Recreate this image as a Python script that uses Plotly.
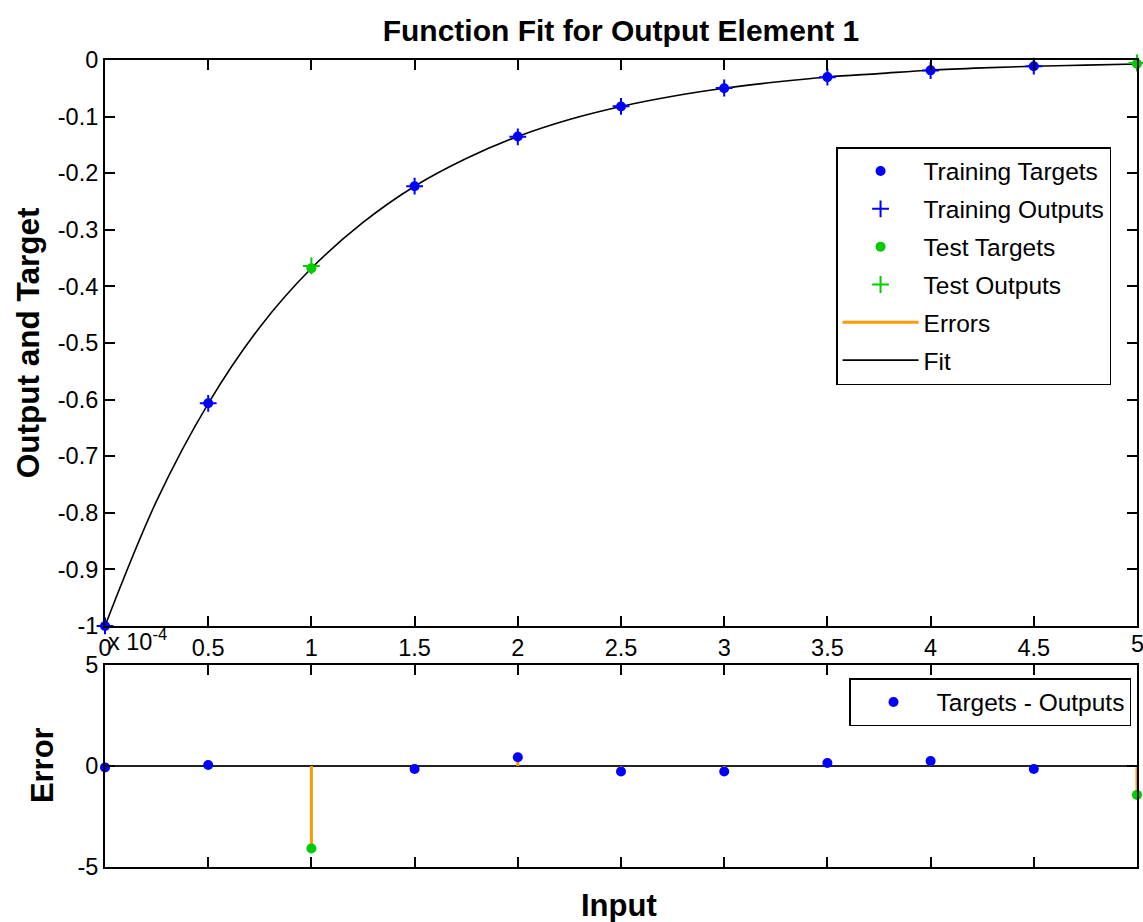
import plotly.graph_objects as go
from plotly.subplots import make_subplots

# ---------------- data ----------------
inputs = [0.0, 0.5e-4, 1.0e-4, 1.5e-4, 2.0e-4, 2.5e-4, 3.0e-4, 3.5e-4, 4.0e-4, 4.5e-4, 5.0e-4]
targets = [-1.0, -0.6065, -0.3679, -0.2231, -0.1353, -0.0821, -0.0498, -0.0302, -0.0183, -0.0111, -0.0067]
outputs = [-0.9999, -0.6066, -0.3638, -0.2230, -0.1357, -0.0818, -0.0495, -0.0304, -0.0186, -0.0109, -0.0053]
errors = [-0.07, 0.05, -4.08, -0.15, 0.43, -0.27, -0.27, 0.15, 0.25, -0.15, -1.43]
is_test = [False, False, True, False, False, False, False, False, False, False, True]

fit_x = [0.0, 0.25e-4, 0.5e-4, 0.75e-4, 1.0e-4, 1.25e-4, 1.5e-4, 1.75e-4, 2.0e-4, 2.25e-4, 2.5e-4,
         2.75e-4, 3.0e-4, 3.25e-4, 3.5e-4, 3.75e-4, 4.0e-4, 4.25e-4, 4.5e-4, 4.75e-4, 5.0e-4]
fit_y = [-1.0, -0.779, -0.607, -0.472, -0.368, -0.287, -0.223, -0.174, -0.135, -0.105, -0.082,
         -0.064, -0.050, -0.039, -0.030, -0.024, -0.018, -0.014, -0.011, -0.009, -0.007]

x_tickvals = [0.0, 0.5e-4, 1.0e-4, 1.5e-4, 2.0e-4, 2.5e-4, 3.0e-4, 3.5e-4, 4.0e-4, 4.5e-4, 5.0e-4]
x_ticktext = ["0", "0.5", "1", "1.5", "2", "2.5", "3", "3.5", "4", "4.5", "5"]
y1_tickvals = [0, -0.1, -0.2, -0.3, -0.4, -0.5, -0.6, -0.7, -0.8, -0.9, -1.0]
y1_ticktext = ["0", "-0.1", "-0.2", "-0.3", "-0.4", "-0.5", "-0.6", "-0.7", "-0.8", "-0.9", "-1"]
y2_tickvals = [5, 0, -5]
y2_ticktext = ["5", "0", "-5"]

# ---------------- style ----------------
BLUE = "#0000FF"
GREEN = "#00CC00"
ORANGE = "#FF9900"
FONT = "Liberation Sans, Arial, sans-serif"

W, H = 1143, 922
L, R, T, B = 105, 4, 60, 55
plot_h = H - T - B
top_bottom_px = 626
bot_top_px = 665
dom_top = [(H - B - top_bottom_px) / plot_h, 1.0]
dom_bot = [0.0, (H - B - bot_top_px) / plot_h]

fig = make_subplots(rows=2, cols=1)

tr_idx = [i for i in range(len(inputs)) if not is_test[i]]
te_idx = [i for i in range(len(inputs)) if is_test[i]]

# top panel error stems (target -> output)
sx, sy = [], []
for i in range(len(inputs)):
    sx += [inputs[i], inputs[i], None]
    sy += [targets[i], outputs[i], None]

fig.add_trace(go.Scatter(x=fit_x, y=fit_y, mode="lines", name="Fit",
                         line=dict(color="black", width=1.6, shape="spline"),
                         legend="legend", legendrank=6, legendgroup="g6",
                         cliponaxis=False), row=1, col=1)
fig.add_trace(go.Scatter(x=sx, y=sy, mode="lines", name="Errors",
                         line=dict(color=ORANGE, width=3), legend="legend",
                         legendrank=5, legendgroup="g5"), row=1, col=1)
fig.add_trace(go.Scatter(x=[inputs[i] for i in tr_idx], y=[targets[i] for i in tr_idx],
                         mode="markers", name="Training Targets",
                         marker=dict(color=BLUE, size=10, symbol="circle"),
                         legend="legend", legendrank=1, legendgroup="g1",
                         cliponaxis=False), row=1, col=1)
fig.add_trace(go.Scatter(x=[inputs[i] for i in tr_idx], y=[outputs[i] for i in tr_idx],
                         mode="markers", name="Training Outputs",
                         marker=dict(color=BLUE, size=12, symbol="cross-thin",
                                     line=dict(color=BLUE, width=2)),
                         legend="legend", legendrank=2, legendgroup="g2",
                         cliponaxis=False), row=1, col=1)
fig.add_trace(go.Scatter(x=[inputs[i] for i in te_idx], y=[targets[i] for i in te_idx],
                         mode="markers", name="Test Targets",
                         marker=dict(color=GREEN, size=10, symbol="circle"),
                         legend="legend", legendrank=3, legendgroup="g3",
                         cliponaxis=False), row=1, col=1)
fig.add_trace(go.Scatter(x=[inputs[i] for i in te_idx], y=[outputs[i] for i in te_idx],
                         mode="markers", name="Test Outputs",
                         marker=dict(color=GREEN, size=12, symbol="cross-thin",
                                     line=dict(color=GREEN, width=2)),
                         legend="legend", legendrank=4, legendgroup="g4",
                         cliponaxis=False), row=1, col=1)

# bottom panel
ex, ey = [], []
for i in range(len(inputs)):
    ex += [inputs[i], inputs[i], None]
    ey += [0, errors[i], None]
fig.add_trace(go.Scatter(x=ex, y=ey, mode="lines", showlegend=False,
                         line=dict(color=ORANGE, width=3), cliponaxis=False), row=2, col=1)
fig.add_trace(go.Scatter(x=[inputs[i] for i in tr_idx], y=[errors[i] for i in tr_idx],
                         mode="markers", name="Targets - Outputs",
                         marker=dict(color=BLUE, size=10), legend="legend2",
                         cliponaxis=False), row=2, col=1)
fig.add_trace(go.Scatter(x=[inputs[i] for i in te_idx], y=[errors[i] for i in te_idx],
                         mode="markers", showlegend=False,
                         marker=dict(color=GREEN, size=10), cliponaxis=False), row=2, col=1)

axis_common = dict(showline=True, linecolor="black", linewidth=2, mirror="ticks",
                   ticks="inside", ticklen=10, tickwidth=1.5, tickcolor="black",
                   showgrid=False, tickfont=dict(family=FONT, size=23.5, color="black"))

fig.update_xaxes(axis_common, range=[0, 5e-4], tickvals=x_tickvals, ticktext=x_ticktext,
                 zeroline=False, domain=[0, 1], row=1, col=1)
fig.update_xaxes(axis_common, range=[0, 5e-4], tickvals=x_tickvals, showticklabels=False,
                 zeroline=False, domain=[0, 1], row=2, col=1)
fig.update_yaxes(axis_common, range=[-1, 0], tickvals=y1_tickvals, ticktext=y1_ticktext,
                 zeroline=False, domain=dom_top, row=1, col=1)
fig.update_yaxes(axis_common, range=[-5, 5], tickvals=y2_tickvals, ticktext=y2_ticktext,
                 zeroline=True, zerolinecolor="#222222", zerolinewidth=1.5,
                 domain=dom_bot, row=2, col=1)


def py(px):
    return (H - B - px) / plot_h


def px_x(px):
    return (px - L) / (W - L - R)


fig.update_layout(
    width=W, height=H,
    margin=dict(l=L, r=R, t=T, b=B),
    paper_bgcolor="white", plot_bgcolor="white",
    font=dict(family=FONT, size=23.5, color="black"),
    title=dict(text="Function Fit for Output Element 1", x=0.5, xref="paper", xanchor="center",
               y=1 - 30 / H, yref="container", yanchor="middle",
               font=dict(family=FONT, size=30, color="black", weight="bold")),
    legend=dict(x=px_x(1113), y=py(147), xanchor="right", yanchor="top",
                bordercolor="black", borderwidth=1.5, bgcolor="white",
                font=dict(family=FONT, size=24.5, color="black"),
                itemwidth=76, tracegroupgap=3, traceorder="grouped"),
    legend2=dict(x=px_x(1133), y=py(678), xanchor="right", yanchor="top",
                 bordercolor="black", borderwidth=1.5, bgcolor="white",
                 font=dict(family=FONT, size=24.5, color="black"), itemwidth=76),
    annotations=[
        dict(text="Output and Target", x=px_x(28), y=py(343), xref="paper", yref="paper",
             textangle=-90, showarrow=False, xanchor="center", yanchor="middle",
             font=dict(family=FONT, size=31.5, color="black", weight="bold")),
        dict(text="Error", x=px_x(42), y=py(765), xref="paper", yref="paper",
             textangle=-90, showarrow=False, xanchor="center", yanchor="middle",
             font=dict(family=FONT, size=31, color="black", weight="bold")),
        dict(text="Input", x=px_x(620), y=py(905), xref="paper", yref="paper",
             showarrow=False, xanchor="center", yanchor="middle",
             font=dict(family=FONT, size=31, color="black", weight="bold")),
        dict(text="x 10<sup>-4</sup>", x=px_x(106), y=py(640), xref="paper", yref="paper",
             showarrow=False, xanchor="left", yanchor="middle",
             font=dict(family=FONT, size=23.5, color="black")),
        dict(text="5", x=1.0, y=py(644), xref="paper", yref="paper",
             showarrow=False, xanchor="center", yanchor="middle",
             font=dict(family=FONT, size=23.5, color="black")),
    ],
)

fig.write_html("out.html")
